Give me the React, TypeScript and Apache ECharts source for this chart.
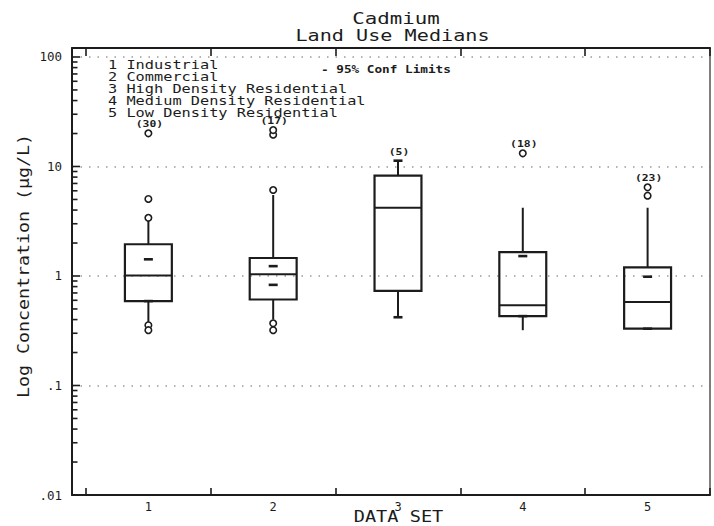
import React, { useEffect, useRef } from 'react';
import * as echarts from 'echarts';

// Land use groups (data sets 1..5)
const categories = ['1', '2', '3', '4', '5'];
const landUses = [
  'Industrial',
  'Commercial',
  'High Density Residential',
  'Medium Density Residential',
  'Low Density Residential',
];
const sampleCounts = [30, 17, 5, 18, 23];

// Box statistics, cadmium in µg/L
const whiskerLow = [0.365, 0.4, 0.42, 0.32, 0.33];
const quartile1 = [0.59, 0.61, 0.73, 0.43, 0.33];
const medians = [1.01, 1.04, 4.2, 0.54, 0.58];
const quartile3 = [1.95, 1.46, 8.24, 1.65, 1.2];
const whiskerHigh = [3.36, 5.49, 11.3, 4.2, 4.2];

// 95% confidence limits on the median
const confLow = [0.59, 0.83, 0.42, 0.43, 0.33];
const confHigh = [1.42, 1.23, 11.3, 1.52, 0.985];

// Individually plotted points
const outlierSet = [1, 1, 1, 1, 1, 2, 2, 2, 2, 2, 4, 5, 5];
const outlierValues = [0.355, 0.32, 3.4, 5.05, 20.1, 0.37, 0.32, 6.1, 19.5, 21.5, 13.2, 5.41, 6.46];

// Log axis decades and their printed labels
const yTickValues = [0.01, 0.1, 1, 10, 100];
const yTickLabels = ['.01', '.1', '1', '10', '100'];

const INK = '#1c1c1c';
const MONO = '"DejaVu Sans Mono", monospace';
const X_MIN = 0.388;
const X_MAX = 5.5;
const Y_MAX = 120.8;
const HALF_BOX = 0.188;

const boxData = categories.map((c, i) => [
  Number(c),
  whiskerLow[i],
  quartile1[i],
  medians[i],
  quartile3[i],
  whiskerHigh[i],
  confLow[i],
  confHigh[i],
]);

const outlierData = outlierSet.map((s, i) => [s, outlierValues[i]]);

// Count label sits above the highest plotted value of each set
const countData = categories.map((c, i) => {
  const x = Number(c);
  const pts = outlierValues.filter((_, k) => outlierSet[k] === x);
  return [x, Math.max(whiskerHigh[i], ...pts), sampleCounts[i]];
});

// Ticks of the log axis: majors at each decade, minors at 2..9 within it
const axisTickData: number[][] = [];
yTickValues.forEach((d, i) => {
  axisTickData.push([1, d, 1]);
  if (i < yTickValues.length - 1) {
    for (let m = 2; m <= 9; m++) axisTickData.push([1, d * m, 0]);
  }
});

const boundaryTicks = categories.map((c) => Number(c) - 0.5).concat([X_MAX]);
const centerTicks = categories.map((c) => Number(c));

function txt(text: string, x: number, y: number, size: number, scaleX: number, extra: any = {}) {
  return {
    type: 'text',
    x,
    y,
    scaleX,
    rotation: extra.rotation || 0,
    style: {
      text,
      x: 0,
      y: 0,
      font: `${extra.weight || 'normal'} ${size}px ${MONO}`,
      fill: INK,
      align: extra.align || 'left',
      verticalAlign: 'middle',
    },
  };
}

function buildOption(): any {
  const graphic: any[] = [
    txt('Cadmium', 396, 18.5, 15.5, 1.34, { align: 'center' }),
    txt('Land Use Medians', 392.5, 35.5, 15.5, 1.3, { align: 'center' }),
    txt('- 95% Conf Limits', 321, 70, 10, 1.27, { weight: 'bold' }),
    txt('Log Concentration (µg/L)', 24, 266, 15, 1.22, { align: 'center', rotation: Math.PI / 2 }),
    txt('DATA SET', 398.5, 517, 15.5, 1.2, { align: 'center' }),
  ];
  categories.forEach((c, i) => {
    graphic.push(txt(`${c} ${landUses[i]}`, 108, 65 + 11.9 * i, 11.5, 1.33));
  });

  return {
    animation: false,
    backgroundColor: '#ffffff',
    grid: { left: 72, right: 4, top: 48, bottom: 31 },
    graphic,
    xAxis: [
      {
        type: 'value',
        min: X_MIN,
        max: X_MAX,
        position: 'bottom',
        axisLine: { show: true, lineStyle: { color: INK, width: 2 } },
        axisTick: {
          show: true,
          inside: true,
          length: 7,
          customValues: boundaryTicks,
          lineStyle: { color: INK, width: 1.6 },
        },
        axisLabel: {
          show: true,
          customValues: centerTicks,
          margin: 6,
          color: INK,
          fontFamily: MONO,
          fontSize: 12,
          formatter: (v: number) => String(Math.round(v)),
        },
        splitLine: { show: false },
      },
      {
        type: 'value',
        min: X_MIN,
        max: X_MAX,
        position: 'top',
        axisLine: { show: true, lineStyle: { color: INK, width: 2 } },
        axisTick: {
          show: true,
          inside: true,
          length: 8,
          customValues: boundaryTicks,
          lineStyle: { color: INK, width: 1.6 },
        },
        axisLabel: { show: false },
        splitLine: { show: false },
      },
    ],
    yAxis: [
      {
        type: 'log',
        logBase: 10,
        min: 0.01,
        max: Y_MAX,
        position: 'left',
        axisLine: { show: true, lineStyle: { color: INK, width: 2 } },
        axisTick: { show: false },
        axisLabel: {
          margin: 10,
          color: INK,
          fontFamily: MONO,
          fontSize: 12.5,
          formatter: (v: number) => {
            const i = yTickValues.findIndex((t) => Math.abs(Math.log10(t) - Math.log10(v)) < 1e-6);
            return i >= 0 ? yTickLabels[i] : '';
          },
        },
        splitLine: {
          show: true,
          lineStyle: { color: '#9a9a9a', width: 1.5, type: [1.5, 7] },
        },
      },
      {
        type: 'log',
        logBase: 10,
        min: 0.01,
        max: Y_MAX,
        position: 'right',
        axisLine: { show: true, lineStyle: { color: '#555', width: 1.5 } },
        axisTick: { show: false },
        axisLabel: { show: false },
        splitLine: { show: false },
      },
    ],
    series: [
      {
        type: 'custom',
        name: 'boxes',
        xAxisIndex: 0,
        yAxisIndex: 0,
        data: boxData,
        renderItem: (params: any, api: any) => {
          const x = api.value(0);
          const y = (k: number) => api.coord([x, api.value(k)])[1];
          const cx = api.coord([x, 1])[0];
          const hw = api.coord([x + HALF_BOX, 1])[0] - cx;
          const yWL = y(1), yQ1 = y(2), yMed = y(3), yQ3 = y(4), yWH = y(5), yCL = y(6), yCH = y(7);
          const stroke = { stroke: INK, lineWidth: 2, fill: null };
          const dash = (yy: number) => ({
            type: 'line',
            shape: { x1: cx - 4.5, y1: yy, x2: cx + 4.5, y2: yy },
            style: { stroke: INK, lineWidth: 2.6 },
          });
          return {
            type: 'group',
            children: [
              { type: 'line', shape: { x1: cx, y1: yQ3, x2: cx, y2: yWH }, style: stroke },
              { type: 'line', shape: { x1: cx, y1: yQ1, x2: cx, y2: yWL }, style: stroke },
              {
                type: 'rect',
                shape: { x: cx - hw, y: yQ3, width: 2 * hw, height: yQ1 - yQ3 },
                style: { stroke: INK, lineWidth: 2.2, fill: 'none' },
              },
              { type: 'line', shape: { x1: cx - hw, y1: yMed, x2: cx + hw, y2: yMed }, style: stroke },
              dash(yCL),
              dash(yCH),
            ],
          };
        },
      },
      {
        type: 'custom',
        name: 'axis ticks',
        xAxisIndex: 0,
        yAxisIndex: 0,
        data: axisTickData,
        silent: true,
        renderItem: (params: any, api: any) => {
          const yy = api.coord([api.value(0), api.value(1)])[1];
          const left = api.coord([X_MIN, api.value(1)])[0];
          const len = api.value(2) ? 8 : 5.5;
          return {
            type: 'line',
            shape: { x1: left, y1: yy, x2: left + len, y2: yy },
            style: { stroke: INK, lineWidth: 1.6 },
          };
        },
      },
      {
        type: 'scatter',
        name: 'points',
        xAxisIndex: 0,
        yAxisIndex: 0,
        data: outlierData,
        symbol: 'circle',
        symbolSize: 6.5,
        itemStyle: { color: '#ffffff', borderColor: INK, borderWidth: 1.6, opacity: 1 },
      },
      {
        type: 'custom',
        name: 'counts',
        xAxisIndex: 0,
        yAxisIndex: 0,
        data: countData,
        renderItem: (params: any, api: any) => {
          const p = api.coord([api.value(0), api.value(1)]);
          return {
            type: 'text',
            x: p[0] + 1,
            y: p[1] - 9.5,
            scaleX: 1.2,
            style: {
              text: `(${api.value(2)})`,
              x: 0,
              y: 0,
              font: `bold 9.5px ${MONO}`,
              fill: INK,
              align: 'center',
              verticalAlign: 'middle',
            },
          };
        },
      },
    ],
  };
}

export default function App() {
  const ref = useRef<HTMLDivElement>(null);
  useEffect(() => {
    if (!ref.current) return;
    const chart = echarts.init(ref.current, null, { renderer: 'svg' });
    chart.setOption(buildOption());
    return () => chart.dispose();
  }, []);
  return (
    <div
      ref={ref}
      style={{ position: 'fixed', left: 0, top: 0, width: 714, height: 526, background: '#ffffff' }}
    />
  );
}
